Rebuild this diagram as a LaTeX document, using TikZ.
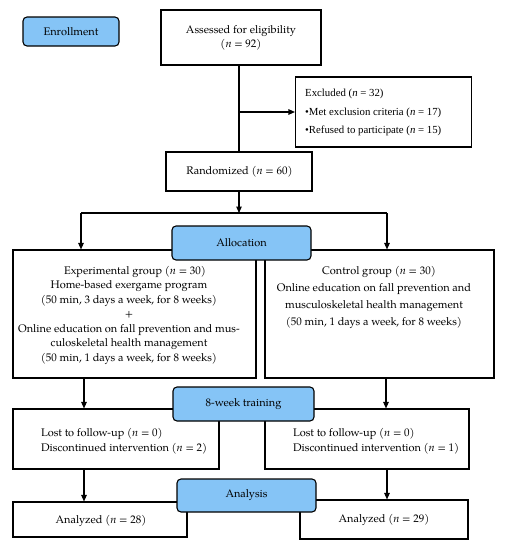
\documentclass[tikz,border=0pt]{standalone}
\usepackage{fontspec}
\setmainfont{texgyrepagella}[Extension=.otf, UprightFont=*-regular, ItalicFont=*-italic, BoldFont=*-bold]
\newfontfamily\timesfont{Liberation Serif}
\usetikzlibrary{arrows.meta}
\definecolor{stageblue}{RGB}{133,196,246}
\begin{document}
\begin{tikzpicture}[x=1pt,y=-1pt,
  box/.style={draw=black, line width=1.1pt, fill=white, inner sep=0pt},
  stage/.style={draw=black, line width=1.1pt, fill=stageblue, rounded corners=4pt, inner sep=0pt, font=\fontsize{11pt}{13pt}\selectfont},
  txt/.style={inner sep=0pt, font=\fontsize{11pt}{14.5pt}\selectfont},
  conn/.style={line width=1.1pt, draw=black},
  arr/.style={conn, -{Triangle[length=6.5pt,width=5.5pt]}}]
\useasboundingbox (0,0) rectangle (522,550);
% boxes
\node[box, minimum width=160pt, minimum height=55pt] (assess) at (241,37.5) {};
\node[box, minimum width=176pt, minimum height=70pt] (excl) at (383.5,112) {};
\node[box, minimum width=146pt, minimum height=39pt] (rand) at (239,171.5) {};
\node[box, minimum width=243pt, minimum height=128pt] (exp) at (134.5,314) {};
\node[box, minimum width=229pt, minimum height=128pt] (ctrl) at (379.5,314) {};
\node[box, minimum width=206pt, minimum height=60pt] (lostL) at (116,439) {};
\node[box, minimum width=204pt, minimum height=60pt] (lostR) at (367,439) {};
\node[box, minimum width=174pt, minimum height=35pt] (anaL) at (100,519.5) {};
\node[box, minimum width=168pt, minimum height=39pt] (anaR) at (384,519.5) {};
% connectors
\coordinate (split) at (239,213);
\coordinate (splitL) at (81,213);
\coordinate (splitR) at (387,213);
\draw[conn] (assess.south -| rand.north) -- (rand.north);
\draw[arr] (rand.north |- excl.west) -- (excl.west);
\draw[arr] (rand.south) -- (split);
\draw[conn] (splitL) -- (splitR);
\draw[arr] (splitL) -- (splitL |- exp.north);
\draw[arr] (splitR) -- (splitR |- ctrl.north);
\draw[arr] (84,378) coordinate (e1) -- (e1 |- lostL.north);
\draw[arr] (386,378) coordinate (c1) -- (c1 |- lostR.north);
\draw[arr] (84,469) coordinate (l1) -- (l1 |- anaL.north);
\draw[arr] (387,469) coordinate (r1) -- (r1 |- anaR.north);
% texts
\node[txt, align=center] (assesst) at (241,38) {Assessed for eligibility\\(\textit{n} = 92)};
\node[txt, align=left, anchor=west, font=\timesfont\fontsize{10.8pt}{18.5pt}\selectfont] (exclt) at (305,112.5) {Excluded (\textit{n} = 32)\\\textbullet Met exclusion criteria (\textit{n} = 17)\\\textbullet Refused to participate (\textit{n} = 15)};
\node[txt] (randt) at (239.5,171.5) {Randomized (\textit{n} = 60)};
\node[txt, align=center] (expt) at (129,315) {\hspace*{12pt}Experimental group (\textit{n} = 30)\\Home-based exergame program\\(50 min, 3 days a week, for 8 weeks)\\+\\Online education on fall prevention and mus-\\culoskeletal health management\\(50 min, 1 days a week, for 8 weeks)};
\node[txt, align=center, font=\fontsize{11pt}{17.3pt}\selectfont] (ctrlt) at (374,297.5) {\hspace*{10pt}Control group (\textit{n} = 30)\\Online education on fall prevention and\\musculoskeletal health management\\(50 min, 1 days a week, for 8 weeks)};
\node[txt, align=left, anchor=west, font=\fontsize{11pt}{15pt}\selectfont] (lostLt) at (41,441) {Lost to follow-up (\textit{n} = 0)\\Discontinued intervention (\textit{n} = 2)};
\node[txt, align=left, anchor=west, font=\fontsize{11pt}{15pt}\selectfont] (lostRt) at (293,441) {Lost to follow-up (\textit{n} = 0)\\Discontinued intervention (\textit{n} = 1)};
\node[txt] (anaLt) at (101,520.5) {Analyzed (\textit{n} = 28)};
\node[txt] (anaRt) at (384,520) {Analyzed (\textit{n} = 29)};
% stage labels
\node[stage, minimum width=96pt, minimum height=29pt] (enroll) at (71,31.5) {Enrollment};
\node[stage, minimum width=139pt, minimum height=34pt] (alloc) at (241.5,243) {Allocation};
\node[stage, minimum width=141pt, minimum height=34pt] (train) at (243.5,404) {8-week training};
\node[stage, minimum width=139pt, minimum height=33pt] (anal) at (246.5,495.5) {Analysis};
\end{tikzpicture}
\end{document}
